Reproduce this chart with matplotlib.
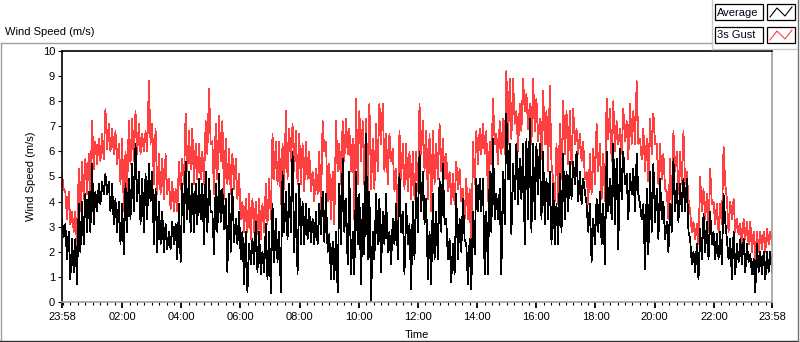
import numpy as np
import matplotlib
matplotlib.use('Agg')
import matplotlib.pyplot as plt
import matplotlib.dates as mdates
from matplotlib.lines import Line2D
from matplotlib.patches import Rectangle
from datetime import datetime, timedelta

# ---------------- data (m/s), chronological ----------------
gust_00_05 = [5.1,4.5, 4.4,3.3, 4.4,3.1, 3.6,2.8, 3.6,2.1, 5.3,3.6, 5.6,4.1, 5.7,4.3, 5.9,4.4, 7.2,5.3,
              6.4,5.5, 6.5,5.6, 6.7,5.7, 7.7,6.1, 7.1,6.0, 6.9,5.9, 6.8,5.5, 6.3,4.7, 6.5,3.6, 6.0,4.4,
              7.2,5.5, 7.3,5.6, 7.6,5.9, 7.1,5.9, 6.7,6.0, 6.8,6.0, 8.8,6.3, 7.1,4.7, 6.9,4.3, 5.9,4.3,
              5.7,4.1, 5.9,4.3, 4.9,3.7, 4.8,3.6, 4.5,3.6, 5.6,4.5, 5.7,4.7, 7.5,5.2, 6.8,5.3, 6.9,4.7,
              6.3,4.9, 6.3,4.9]
gust_05_09 = [6.0,4.7, 7.2,5.9, 8.5,6.3, 6.4,4.3, 7.1,4.9, 7.4,5.6, 7.2,4.1, 6.5,4.7, 6.1,4.3, 5.9,4.5,
              5.7,4.1, 5.1,3.3, 4.0,2.8, 4.1,2.8, 4.3,2.5, 4.1,2.8, 4.0,2.7, 4.1,2.5, 3.9,2.8, 4.7,3.1,
              4.9,3.3, 6.7,4.9, 6.4,4.7, 6.4,3.9, 6.3,4.5, 7.6,4.9, 6.9,5.6, 7.1,5.2, 6.8,4.7, 6.7,4.7,
              6.3,4.4, 6.4,4.9, 6.0,4.4, 5.2,4.0, 5.3,4.3, 6.0,3.6, 7.2,6.0, 6.4,4.0, 5.5,3.3, 5.2,3.1,
              7.2,5.2, 6.3,4.7]
gust_09_14 = [7.2,5.6, 7.3,5.9, 6.9,5.2, 6.5,3.3, 8.1,4.7, 7.6,5.6, 7.2,4.7, 7.3,4.4, 7.9,4.5, 6.5,4.5,
              7.1,5.2, 7.9,6.3, 7.9,5.2, 6.7,4.7, 6.7,5.6, 6.1,4.4, 5.3,3.3, 6.8,4.9, 6.3,4.5, 6.3,4.4,
              6.0,4.1, 6.0,4.1, 6.0,4.4, 7.9,5.9, 7.2,5.2, 6.8,4.1, 6.7,3.6, 6.8,4.7, 6.3,4.9, 7.1,5.2,
              6.5,4.9, 5.9,4.4, 5.2,3.9, 5.1,3.9, 5.6,4.5, 5.3,4.0, 4.5,3.3, 4.9,3.3, 4.5,1.6, 6.4,4.7,
              6.8,5.5, 6.9,5.9]
gust_14_19 = [7.1,5.9, 6.8,4.0, 6.4,5.5, 8.1,6.3, 6.7,5.5, 7.2,5.9, 7.3,5.9, 9.2,6.3, 8.9,6.5, 8.9,7.1,
              7.6,6.0, 7.9,6.8, 8.9,7.6, 8.3,6.9, 7.9,6.3, 8.9,6.8, 8.1,6.4, 7.3,5.7, 8.4,6.3, 7.6,5.2,
              8.6,5.5, 4.9,4.0, 6.3,3.9, 7.1,4.9, 8.0,5.9, 7.6,5.5, 7.6,5.5, 7.7,6.3, 6.9,5.9, 6.7,5.6,
              6.4,4.9, 5.2,3.9, 5.9,4.3, 6.1,4.7, 7.1,5.2, 6.3,4.1, 5.9,4.0, 8.1,6.5, 7.7,5.6, 8.0,6.0,
              7.2,6.3, 6.9,5.9]
gust_19_24 = [7.7,6.4, 7.2,5.7, 7.9,6.3, 7.6,6.3, 8.8,6.3, 6.5,5.7, 6.9,5.2, 6.5,4.8, 7.3,5.9, 7.5,6.3,
              6.3,4.7, 6.3,4.9, 5.9,4.5, 4.4,3.3, 5.7,3.6, 6.8,5.2, 6.0,4.3, 6.0,4.7, 6.8,4.7, 5.2,4.1,
              3.6,2.8, 3.2,2.5, 3.1,2.3, 5.0,3.6, 4.5,3.3, 4.3,2.8, 5.3,3.9, 4.0,3.1, 3.9,2.8, 3.9,3.1,
              6.2,4.7, 4.1,2.8, 4.0,3.3, 4.1,2.8, 3.3,2.7, 3.1,2.3, 3.3,2.5, 3.2,2.3, 3.2,2.0, 2.8,1.7,
              2.8,2.0, 2.8,2.1, 2.8,2.0, 2.9,2.3, 2.8,2.3]

avg_00_05 = [3.3,2.6, 3.1,1.7, 2.8,0.9, 2.5,1.2, 2.5,0.7, 3.9,2.0, 4.0,2.3, 4.3,2.8, 4.4,2.8, 5.5,3.1,
             4.4,3.6, 4.7,3.9, 4.8,4.3, 5.1,4.3, 4.8,3.6, 4.7,3.1, 4.1,2.8, 4.0,2.3, 3.9,1.9, 4.7,2.8,
             4.9,3.3, 5.5,3.6, 6.3,4.0, 5.2,3.1, 4.9,2.8, 5.1,3.3, 5.5,4.0, 5.2,2.3, 4.5,2.0, 4.0,2.3,
             3.6,2.0, 3.1,2.1, 2.8,2.1, 3.2,2.3, 3.1,1.7, 3.9,1.6, 4.7,2.8, 5.6,3.3, 5.2,2.8, 4.7,2.8,
             4.7,3.1, 4.9,3.3]
avg_05_09 = [4.7,2.3, 5.2,2.8, 4.9,3.6, 3.6,1.9, 4.7,2.8, 5.1,3.2, 4.5,2.9, 4.1,1.2, 4.3,2.0, 4.5,2.4,
             3.3,2.3, 3.6,1.7, 2.8,0.7, 2.8,0.4, 2.3,1.5, 2.5,1.5, 3.2,1.2, 2.8,1.1, 2.0,1.2, 3.1,0.9,
             2.8,0.35, 3.9,1.6, 3.3,1.6, 2.8,0.4, 5.2,2.8, 4.4,2.5, 4.7,2.8, 6.0,2.0, 4.3,1.1, 4.7,2.3,
             4.0,2.3, 3.9,2.5, 3.7,2.4, 3.3,2.3, 3.6,2.3, 3.9,2.7, 4.4,2.4, 4.3,2.0, 2.7,0.9, 2.4,0.9,
             2.8,0.4, 4.7,2.3]
avg_09_14 = [5.7,2.8, 4.1,1.5, 5.2,1.1, 2.8,1.1, 5.2,2.3, 4.3,0.7, 3.9,1.9, 6.7,1.7, 4.4,0.0, 2.8,1.7,
             4.3,2.3, 4.1,1.2, 3.6,2.3, 4.3,2.0, 2.8,1.5, 3.3,2.3, 3.9,1.7, 5.1,2.8, 3.6,1.1, 3.9,2.3,
             3.1,0.5, 4.0,1.7, 4.7,2.8, 6.0,3.6, 5.2,3.1, 4.1,0.9, 2.8,0.7, 4.3,1.7, 3.6,1.7, 4.9,2.8,
             5.5,3.1, 3.3,1.7, 2.5,0.8, 2.3,1.1, 4.3,1.7, 3.3,2.0, 4.1,2.5, 2.3,0.7, 2.5,0.5, 3.6,1.9,
             4.9,3.6, 4.9,3.6]
avg_14_19 = [4.9,1.1, 3.6,1.1, 5.2,2.8, 6.5,3.3, 4.3,3.3, 4.5,1.1, 5.2,3.1, 7.5,4.9, 6.3,2.7, 5.5,4.1,
             6.3,3.9, 5.7,4.1, 6.3,2.3, 6.5,3.3, 7.3,2.8, 6.3,3.3, 6.3,4.3, 6.3,3.3, 6.0,3.1, 4.9,3.3,
             5.2,2.3, 4.7,2.3, 3.9,2.3, 5.1,2.8, 5.9,3.3, 5.2,3.6, 5.6,4.1, 5.6,4.7, 6.0,4.0, 5.2,3.9,
             4.9,4.4, 3.9,2.8, 3.9,1.6, 3.3,2.3, 4.1,2.8, 4.4,2.3, 3.9,1.5, 6.0,3.6, 4.9,3.3, 6.3,3.1,
             5.7,2.1, 6.1,4.1]
avg_19_24 = [6.0,4.7, 5.1,3.3, 5.1,4.3, 5.3,3.6, 5.9,4.3, 3.9,3.3, 3.9,1.3, 4.5,1.9, 5.2,2.8, 5.5,3.2,
             4.5,2.5, 4.9,3.3, 4.0,2.5, 3.2,2.0, 3.9,2.8, 5.7,3.6, 4.7,3.2, 4.7,3.6, 4.9,3.6, 4.9,2.8,
             2.5,1.5, 2.0,1.2, 2.3,0.9, 2.9,1.7, 3.5,2.0, 3.2,1.7, 3.6,2.3, 2.8,1.7, 2.7,1.7, 2.8,1.5,
             4.3,3.2, 2.5,1.7, 2.5,0.9, 2.8,1.1, 2.3,1.6, 2.5,1.5, 2.5,1.2, 2.3,1.6, 1.9,1.1, 1.7,0.4,
             2.3,1.2, 2.0,1.1, 2.0,0.9, 2.0,1.2, 2.0,1.2]

gust_ms = gust_00_05 + gust_05_09 + gust_09_14 + gust_14_19 + gust_19_24
average_ms = avg_00_05 + avg_05_09 + avg_09_14 + avg_14_19 + avg_19_24

series_names = ['Average', '3s Gust']
start_time = datetime(2024, 1, 1, 23, 58)
end_time = start_time + timedelta(hours=24)
label_hours = [2, 4, 6, 8, 10, 12, 14, 16, 18, 20, 22]
y_ticks = list(range(0, 11))

# ---------------- figure ----------------
plt.rcParams['font.family'] = ['Liberation Sans', 'DejaVu Sans']
plt.rcParams['font.size'] = 8

W, H = 800, 342
fig = plt.figure(figsize=(W / 100, H / 100), dpi=100)
fig.patch.set_facecolor('white')

def fx(px):
    return px / W

def fy(py):
    return 1 - py / H

ax = fig.add_axes([fx(62), fy(302), fx(772) - fx(62), fy(51) - fy(302)])


def times_for(values):
    n = len(values)
    step = (end_time - start_time) / (n - 1)
    return [start_time + i * step for i in range(n)]

ax.plot(times_for(gust_ms), gust_ms, color='#ff4040', lw=0.55, antialiased=False)
ax.plot(times_for(average_ms), average_ms, color='black', lw=0.55, antialiased=False)

ax.set_xlim(start_time, end_time)
ax.set_ylim(0, 10)
ax.set_yticks(y_ticks)

major = [start_time] + [datetime(2024, 1, 2, h, 0) for h in label_hours] + [end_time]
ax.xaxis.set_major_locator(matplotlib.ticker.FixedLocator(mdates.date2num(major)))
ax.xaxis.set_major_formatter(mdates.DateFormatter('%H:%M'))
ax.xaxis.set_minor_locator(mdates.MinuteLocator(byminute=[0, 15, 30, 45]))

ax.tick_params(axis='x', which='major', length=4, width=1.3, pad=3, direction='out', labelsize=8)
ax.tick_params(axis='x', which='minor', length=2.3, width=0.8, direction='out')
ax.tick_params(axis='y', which='major', length=3, width=0.8, pad=2, direction='out', labelsize=8)

for side in ['top', 'left']:
    ax.spines[side].set_color('black')
    ax.spines[side].set_linewidth(1.2)
for side in ['bottom', 'right']:
    ax.spines[side].set_color('#a0a0a0')
    ax.spines[side].set_linewidth(1.2)

# labels
fig.text(fx(5), fy(32), 'Wind Speed (m/s)', ha='left', va='center', fontsize=8)
fig.text(fx(31), fy(176), 'Wind Speed (m/s)', ha='center', va='center', rotation=90, fontsize=8)
fig.text(fx(417), fy(335), 'Time', ha='center', va='center', fontsize=8)

# outer panel frame
def fline(xs, ys, color, lw=1.0):
    fig.add_artist(Line2D([fx(x) for x in xs], [fy(y) for y in ys], color=color, lw=lw,
                          transform=fig.transFigure))

fline([0.5, 712], [42.5, 42.5], '#a0a0a0')
fline([0.5, 0.5], [42.5, 341], '#a0a0a0')
fline([0, 798], [340.8, 340.8], '#303030')
fline([797.5, 797.5], [0, 341], '#707070')
fline([712, 712], [0, 48.5], '#c8c8c8')
fline([712, 797], [48.5, 48.5], '#c8c8c8')

# legend
legend_colors = ['black', '#ff4040']
row_tops = [4, 27]
for name, col, top in zip(series_names, legend_colors, row_tops):
    fig.add_artist(Rectangle((fx(715), fy(top + 16)), fx(763) - fx(715), fy(top) - fy(top + 16),
                             transform=fig.transFigure, fill=False, ec='black', lw=0.9))
    fig.text(fx(717), fy(top + 8.5), name, ha='left', va='center', fontsize=8, color='#000020')
    fig.add_artist(Rectangle((fx(767), fy(top + 16)), fx(795) - fx(767), fy(top) - fy(top + 16),
                             transform=fig.transFigure, fill=False, ec='black', lw=0.9))
    zx = [770, 777, 785, 792]
    zy = [top + 13, top + 4, top + 12, top + 3]
    fline(zx, zy, col, lw=0.8)

fig.savefig('out.png', dpi=100, facecolor='white')
